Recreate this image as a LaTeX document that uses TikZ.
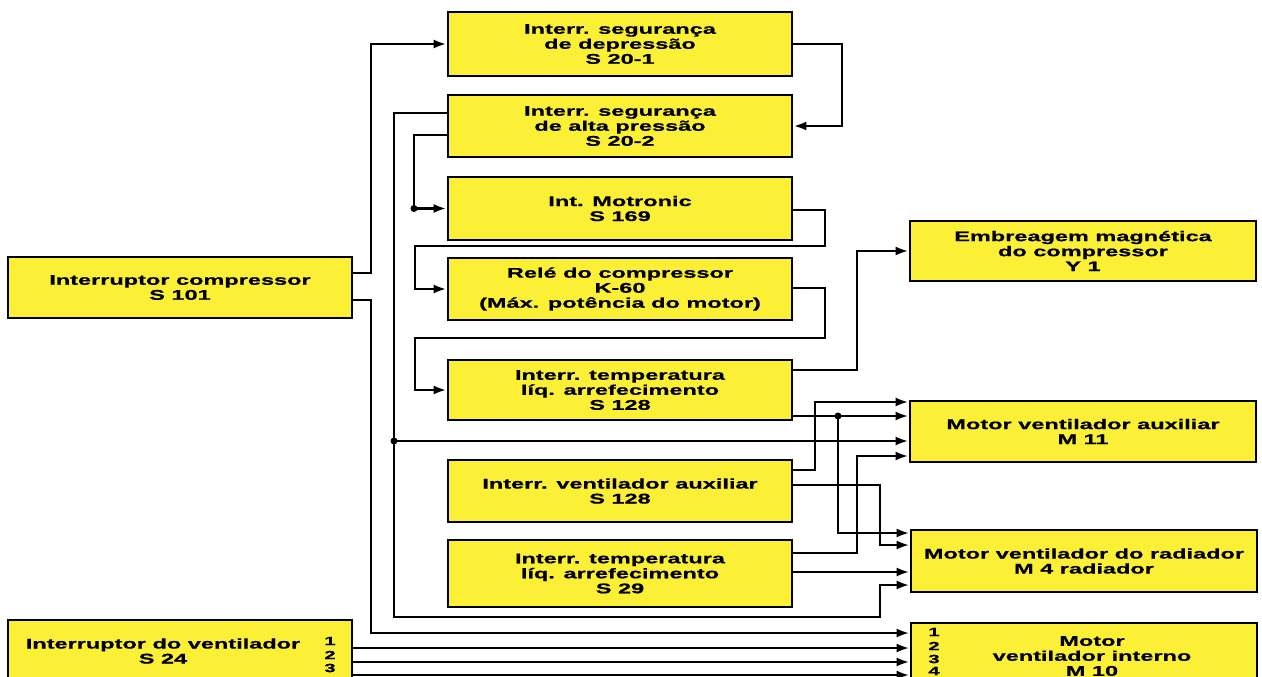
\documentclass[tikz,border=0pt]{standalone}
\usepackage{fontspec}
\newfontfamily\boxfont{Liberation Sans}[FakeStretch=1.68, BoldFeatures={FakeBold=0.8}]
\usetikzlibrary{arrows.meta}
\definecolor{boxyellow}{RGB}{252,240,55}
\newcommand{\junction}[1]{\fill (#1) circle (3.5pt);}
\tikzset{x=1pt, y=-1pt,
    every node/.append style={font=\boxfont\bfseries\fontsize{14}{15}\selectfont},
    box/.style={draw, line width=2.8pt, fill=boxyellow, inner sep=0pt, align=center,
        minimum width=344pt},
    wire/.style={line width=2.6pt, -{Latex[length=13pt,width=9pt]}},
    pin/.style={inner sep=0pt, font=\boxfont\bfseries\fontsize{12}{12}\selectfont}}

\begin{document}
\begin{tikzpicture}
    \useasboundingbox (0,0) rectangle (1262,677);
    \clip (0,0) rectangle (1262,677);
    % switches
    \node[box, minimum height=61pt] (s101) at (180,287.5) {Interruptor compressor\\S 101};
    \node[box, minimum height=64pt] (s24) at (180,652) {};
    \node[align=center] (s24 text) at (163,651) {Interruptor do ventilador\\S 24};
    \foreach \n/\y in {1/641,2/655,3/668}
        \node[pin] (s24 out\n) at (330,\y) {\n};
    % middle column
    \node[box, minimum height=64pt] (s201) at (620,44) {Interr. segurança\\de depressão\\S 20-1};
    \node[box, minimum height=62pt] (s202) at (620,126) {Interr. segurança\\de alta pressão\\S 20-2};
    \node[box, minimum height=63pt] (s169) at (620,208.5) {Int. Motronic\\S 169};
    \node[box, minimum height=62pt] (k60) at (620,289) {Relé do compressor\\K-60\\(Máx. potência do motor)};
    \node[box, minimum height=60pt] (s128) at (620,390) {Interr. temperatura\\líq. arrefecimento\\S 128};
    \node[box, minimum height=62pt] (s128v) at (620,491) {Interr. ventilador auxiliar\\S 128};
    \node[box, minimum height=67pt] (s29) at (620,573.5) {Interr. temperatura\\líq. arrefecimento\\S 29};
    % consumers
    \node[box, minimum width=346pt, minimum height=60pt] (y1) at (1083,251) {Embreagem magnética\\do compressor\\Y 1};
    \node[box, minimum width=346pt, minimum height=61pt] (m11) at (1083,431.5) {Motor ventilador auxiliar\\M 11};
    \node[box, minimum width=346pt, minimum height=62pt] (m4) at (1084,561) {Motor ventilador do radiador\\M 4 radiador};
    \node[box, minimum width=346pt, minimum height=68pt] (m10) at (1084,657) {};
    \node[align=center] (m10 text) at (1092,656) {Motor\\ventilador interno\\M 10};
    \foreach \n/\y in {1/632,2/646,3/659,4/671}
        \node[pin] (m10 in\n) at (934,\y) {\n};

    % wiring
    \draw[wire] (s101.east |- 0,273) -- (371,273) |- (s201);
    \draw[wire] (s101.east |- 0,300) -- (371,300) |- (m10.west |- 0,633);
    \draw[wire] (s201) -- (842,44) |- (s202);
    \draw[wire] (s202.west |- 0,113) -- (394,113) |- (880,617) |- (m4.west |- 0,585);
    \draw[wire] (394,441) -- (m11.west |- 0,441);
    \junction{394,441}
    \draw[wire] (s202.west |- 0,135) -- (414,135) |- (s169);
    \junction{414,208.5}
    \draw[wire] (s169.east |- 0,210) -- (825,210) |- (415,246) |- (k60);
    \draw[wire] (k60.east |- 0,288) -- (825,288) |- (415,338) |- (s128);
    \draw[wire] (s128.east |- 0,370) -- (857,370) |- (y1);
    \draw[wire] (s128.east |- 0,416) -- (m11.west |- 0,416);
    \draw[wire] (838,416) |- (m4.west |- 0,533);
    \junction{838,416}
    \draw[wire] (s128v.east |- 0,470) -- (815,470) |- (m11.west |- 0,402);
    \draw[wire] (s128v.east |- 0,485) -- (880,485) |- (m4.west |- 0,545);
    \draw[wire] (s29.east |- 0,553) -- (857,553) |- (m11.west |- 0,456);
    \draw[wire] (s29.east |- 0,572) -- (m4.west |- 0,572);
    \foreach \y in {648,662,675}
        \draw[wire] (s24.east |- 0,\y) -- (m10.west |- 0,\y);
\end{tikzpicture}
\end{document}
